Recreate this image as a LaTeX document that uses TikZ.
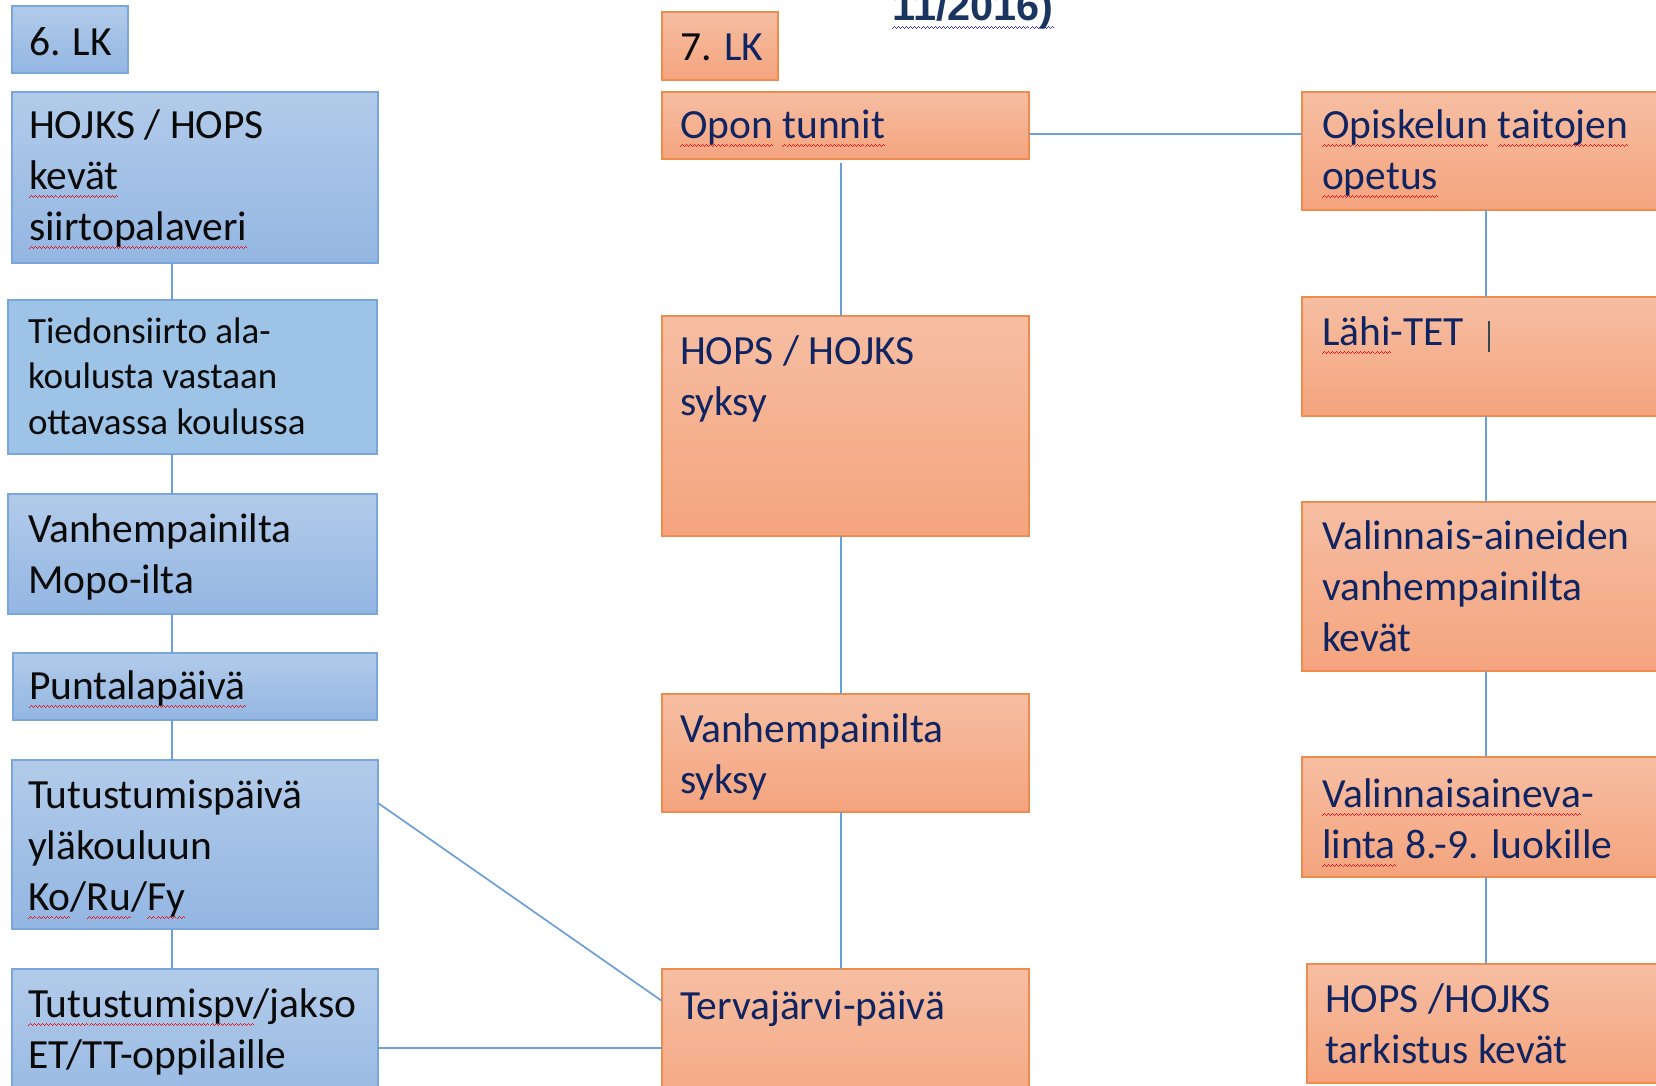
\documentclass[tikz,border=0pt]{standalone}
\usepackage{fontspec}
\setmainfont{Carlito}
\newfontfamily\arialfam{Liberation Sans}
\usepackage{xcolor}
\definecolor{bluetop}{HTML}{B2CBEA}
\definecolor{bluebot}{HTML}{93B6E2}
\definecolor{blueedge}{HTML}{7AA6DC}
\definecolor{blueflat}{HTML}{9DC3E6}
\definecolor{orgtop}{HTML}{F6BEA2}
\definecolor{orgbot}{HTML}{F4A47E}
\definecolor{orgedge}{HTML}{EF8B4C}
\definecolor{connc}{HTML}{6B9FDA}
\definecolor{navy}{HTML}{0F2461}
\definecolor{inkblack}{HTML}{0A0A0A}
\definecolor{sqred}{HTML}{E8141E}
\definecolor{sqblue}{HTML}{3A3ADA}
\definecolor{titlenavy}{HTML}{1A3560}
\definecolor{cursorc}{HTML}{2E4A50}
\newsavebox\sqbox
\newcommand\wavebit{\rule[-9pt]{1pt}{1.5pt}\rule[-8pt]{1pt}{1.5pt}\rule[-7pt]{1pt}{1.5pt}\rule[-8pt]{1pt}{1.5pt}}
\newcommand\sqwith[2]{\leavevmode\sbox\sqbox{#2}\rlap{\color{#1}\hbox to \wd\sqbox{\xleaders\hbox{\wavebit}\hfil}}\usebox\sqbox}
\newcommand\sq[1]{\sqwith{sqred}{#1}}
\newcommand\sqb[1]{\sqwith{sqblue}{#1}}
\newcommand\lns[1]{\parbox[t]{440pt}{\raggedright #1}}
\tikzset{
  boxbase/.style={rectangle, inner sep=0pt, outer sep=0pt, anchor=north west, line width=1.5pt},
  sz/.style 2 args={minimum width=#1pt, minimum height=#2pt},
  bluebox/.style={boxbase, draw=blueedge, top color=bluetop, bottom color=bluebot},
  flatblue/.style={boxbase, draw=blueedge, fill=blueflat},
  orangebox/.style={boxbase, draw=orgedge, top color=orgtop, bottom color=orgbot},
  lbl/.style={anchor=base west, inner sep=0pt, outer sep=0pt, font=\fontsize{41.5}{51}\selectfont},
  leftlbl/.style={lbl, text=inkblack},
  rightlbl/.style={lbl, text=navy},
  conn/.style={draw=connc, line width=2.6pt},
  connmid/.style={draw=connc, line width=2pt},
  connthin/.style={draw=connc, line width=1.7pt},
}
\begin{document}
\begin{tikzpicture}[x=1pt, y=-1pt]
\useasboundingbox (0,0) rectangle (1656,1085);
\clip (0,0) rectangle (1656,1085);
\coordinate (cl) at (172,0);
\coordinate (cm) at (841,0);
\coordinate (cr) at (1486,0);

% title fragment
\node[anchor=base west, inner sep=0pt, font=\arialfam\bfseries\fontsize{41.5}{44}\selectfont, text=titlenavy] (title) at (892,20) {\sqb{11/2016)}};

% left column
\node[bluebox, sz={116}{67}] (lk6) at (12,6) {};
\node[bluebox, sz={366}{171}] (hojks) at (12,92) {};
\node[flatblue, sz={369}{154}] (tied) at (8,300) {};
\node[bluebox, sz={369}{120}] (vanh) at (8,494) {};
\node[bluebox, sz={364}{67}] (punt) at (13,653) {};
\node[bluebox, sz={366}{169}] (tut) at (12,760) {};
\node[bluebox, sz={366}{160}] (tutpv) at (12,969) {};

% middle column
\node[orangebox, sz={116}{68}] (lk7) at (662,12) {};
\node[orangebox, sz={367}{67}] (opon) at (662,92) {};
\node[orangebox, sz={367}{220}] (hops) at (662,316) {};
\node[orangebox, sz={367}{118}] (vsyk) at (662,694) {};
\node[orangebox, sz={367}{160}] (terv) at (662,969) {};

% right column
\node[orangebox, sz={400}{118}] (opis) at (1302,92) {};
\node[orangebox, sz={400}{119}] (lahi) at (1302,297) {};
\node[orangebox, sz={400}{169}] (valin) at (1302,502) {};
\node[orangebox, sz={400}{120}] (valinta) at (1302,757) {};
\node[orangebox, sz={400}{119}] (hopst) at (1307,964) {};

% texts left
\node[leftlbl] (tlk6) at (29,55) {6. LK};
\node[leftlbl] (thojks) at (29,138) {\lns{HOJKS / HOPS\\\sq{kevät}\\\sq{siirtopalaveri}}};
\node[leftlbl, font=\fontsize{37}{45.5}\selectfont] (ttied) at (28,343) {\lns{Tiedonsiirto ala-\\koulusta vastaan\\ottavassa koulussa}};
\node[leftlbl] (tvanh) at (28,542) {\lns{Vanhempainilta\\Mopo-ilta}};
\node[leftlbl] (tpunt) at (29,699) {\sq{Puntalapäivä}};
\node[leftlbl] (ttut) at (28,808) {\lns{Tutustumispäivä\\yläkouluun\\\sq{Ko}/\sq{Ru}/\sq{Fy}}};
\node[leftlbl] (ttutpv) at (28,1017) {\lns{\sq{Tutustumispv}/jakso\\ET/TT-oppilaille}};

% texts middle
\node[lbl] (tlk7) at (680,60) {\textcolor{inkblack}{7.} \textcolor{navy}{LK}};
\node[rightlbl] (topon) at (680,138) {\sq{Opon} \sq{tunnit}};
\node[rightlbl] (thops) at (680,364) {\lns{HOPS / HOJKS\\syksy}};
\node[rightlbl] (tvsyk) at (680,742) {\lns{Vanhempainilta\\syksy}};
\node[rightlbl] (tterv) at (680,1019) {Tervajärvi-päivä};

% texts right
\node[rightlbl] (topis) at (1322,138) {\lns{\sq{Opiskelun} \sq{taitojen}\\\sq{opetus}}};
\node[rightlbl] (tlahi) at (1322,345) {\sq{Lähi}-TET};
\node[rightlbl] (tvalin) at (1322,549) {\lns{Valinnais-aineiden\\vanhempainilta\\kevät}};
\node[rightlbl] (tvalinta) at (1322,807) {\lns{\sq{Valinnaisaineva}-\\\sq{linta} 8.-9. luokille}};
\node[rightlbl] (thopst) at (1325,1012) {\lns{HOPS /HOJKS\\tarkistus kevät}};

% text cursor
\coordinate (cur1) at (1489,321);
\coordinate (cur2) at (1489,352);
\draw[draw=cursorc, line width=1.5pt] (cur1) -- (cur2);

% left connectors
\draw[conn] (cl |- hojks.south) -- (cl |- tied.north);
\draw[conn] (cl |- tied.south) -- (cl |- vanh.north);
\draw[conn] (cl |- vanh.south) -- (cl |- punt.north);
\draw[conn] (cl |- punt.south) -- (cl |- tut.north);
\draw[conn] (cl |- tut.south) -- (cl |- tutpv.north);

% middle connectors
\draw[connmid, shorten <=4pt] (cm |- opon.south) -- (cm |- hops.north);
\draw[connmid] (cm |- hops.south) -- (cm |- vsyk.north);
\draw[connmid] (cm |- vsyk.south) -- (cm |- terv.north);

% right connectors
\draw[connmid] (cr |- opis.south) -- (cr |- lahi.north);
\draw[connmid] (cr |- lahi.south) -- (cr |- valin.north);
\draw[connmid] (cr |- valin.south) -- (cr |- valinta.north);
\draw[connmid] (cr |- valinta.south) -- (cr |- hopst.north);

% cross connectors
\draw[connthin] ([yshift=-42pt]opon.north east) -- ([yshift=-42pt]opon.north east -| opis.west);
\draw[connthin] ([yshift=-43pt]tut.north east) -- ([yshift=-32pt]terv.north west);
\draw[connthin] ([yshift=-79pt]tutpv.north east) -- ([yshift=-79pt]terv.north west);
\end{tikzpicture}
\end{document}
